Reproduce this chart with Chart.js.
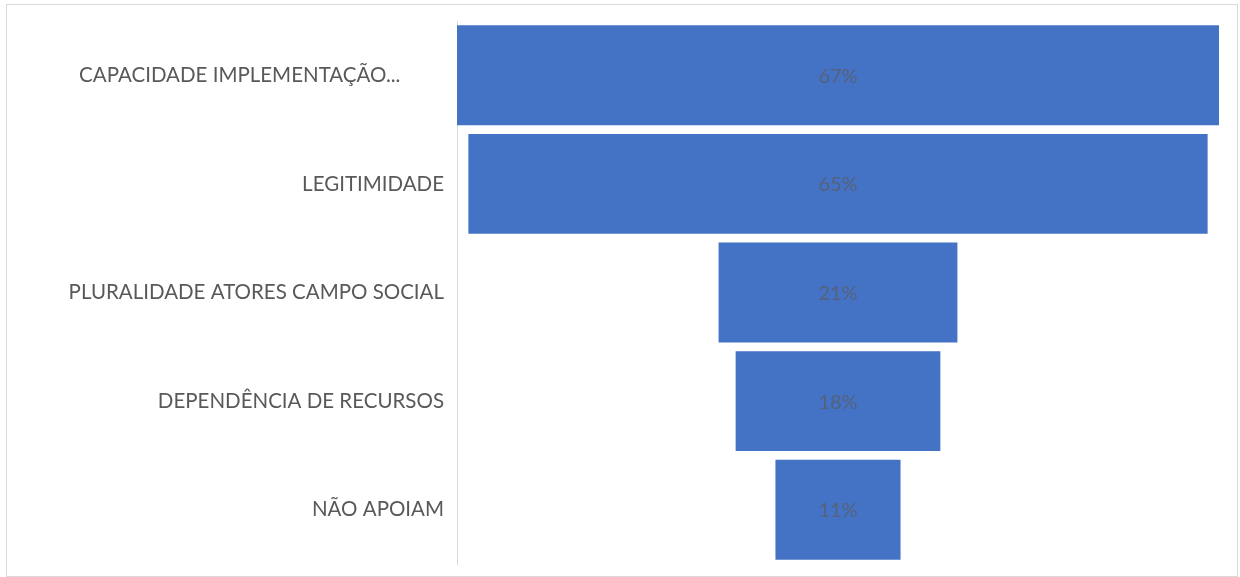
<!DOCTYPE html>
<html>
<head>
<meta charset="utf-8">
<script src="https://cdn.jsdelivr.net/npm/chart.js@4/dist/chart.umd.min.js"></script>
<style>
  html, body { margin: 0; padding: 0; background: #fff; }
  #frame {
    position: absolute; left: 6px; top: 4px;
    width: 1230px; height: 571px;
    border: 1px solid #d9d9d9;
  }
  #chart { display: block; }
</style>
</head>
<body>
<div id="frame"><canvas id="chart" width="1230" height="571"></canvas></div>
<script>
const categories = [
    'CAPACIDADE IMPLEMENTAÇÃO...',
    'LEGITIMIDADE',
    'PLURALIDADE ATORES CAMPO SOCIAL',
    'DEPENDÊNCIA DE RECURSOS',
    'NÃO APOIAM'
];
const percentValues = [67, 65, 21, 18, 11];

const barColor = '#4472C4';
const textColor = '#595959';
const fontFamily = 'Lato, "Open Sans", sans-serif';

// funnel: each bar floats around zero
const funnelData = percentValues.map(v => [-v / 2, v / 2]);

const centerLabels = {
    id: 'centerLabels',
    afterDatasetsDraw(chart) {
        const ctx = chart.ctx;
        const meta = chart.getDatasetMeta(0);
        ctx.save();
        ctx.font = '20px ' + fontFamily;
        ctx.fillStyle = '#56627c';
        ctx.textAlign = 'center';
        ctx.textBaseline = 'middle';
        meta.data.forEach((bar, i) => {
            const pos = bar.getCenterPoint();
            ctx.fillText(percentValues[i] + '%', pos.x, pos.y + 1);
        });
        ctx.restore();
    }
};

const maxHalf = Math.max(...percentValues) / 2;

new Chart(document.getElementById('chart').getContext('2d'), {
    type: 'bar',
    data: {
        labels: categories,
        datasets: [{
            data: funnelData,
            backgroundColor: barColor,
            borderWidth: 0,
            categoryPercentage: 1,
            barPercentage: 0.92
        }]
    },
    options: {
        indexAxis: 'y',
        responsive: false,
        animation: false,
        layout: { padding: { top: 16, bottom: 12, right: 18, left: 0 } },
        plugins: {
            legend: { display: false },
            tooltip: { enabled: false }
        },
        scales: {
            x: {
                display: false,
                min: -maxHalf,
                max: maxHalf
            },
            y: {
                grid: { display: false, drawTicks: false },
                border: { display: true, color: '#d9d9d9', width: 1 },
                ticks: {
                    color: textColor,
                    padding: 13,
                    font: { family: fontFamily, size: 20.5 },
                    // truncated label leaves a gap on its right, as in the original
                    callback(value) {
                        const label = this.getLabelForValue(value);
                        return label.endsWith('...') ? label + '\u2002\u2002\u2002\u2002\u2009' : label;
                    }
                },
                afterFit(scale) {
                    scale.width = 450;
                    scale.paddingTop = 0;
                    scale.paddingBottom = 0;
                }
            }
        }
    },
    plugins: [centerLabels]
});
</script>
</body>
</html>
